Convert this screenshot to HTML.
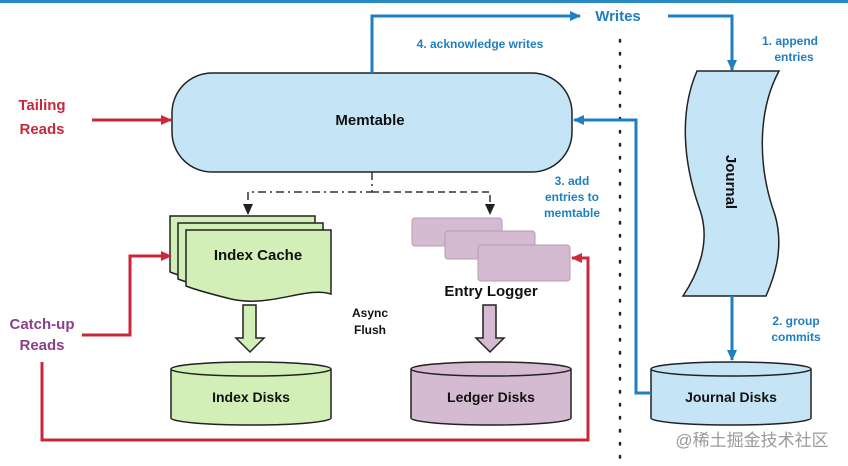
<!DOCTYPE html>
<html><head><meta charset="utf-8"><style>
html,body{margin:0;padding:0;background:#fff;}
svg{display:block;font-family:"Liberation Sans","Noto Sans CJK SC",sans-serif;font-weight:bold;}
</style></head><body>
<svg width="848" height="466" viewBox="0 0 848 466" xmlns="http://www.w3.org/2000/svg">
<defs>
<marker id="ar" markerWidth="12" markerHeight="12" refX="10" refY="6" orient="auto" markerUnits="userSpaceOnUse"><path d="M0,1 L11,6 L0,11 z" fill="#d0283a"/></marker>
<marker id="abl" markerWidth="12" markerHeight="12" refX="10" refY="6" orient="auto" markerUnits="userSpaceOnUse"><path d="M0,1 L11,6 L0,11 z" fill="#1f7fc0"/></marker>
<marker id="ak" markerWidth="12" markerHeight="12" refX="10" refY="6" orient="auto" markerUnits="userSpaceOnUse"><path d="M0,1 L11,6 L0,11 z" fill="#222"/></marker>
</defs>
<rect x="0" y="0" width="848" height="3" fill="#2a8ac8"/>
<line x1="620" y1="40" x2="620" y2="466" stroke="#222" stroke-width="2.5" stroke-dasharray="1.5 11.5" stroke-linecap="round"/>
<rect x="172" y="73" width="400" height="99" rx="40" fill="#c5e5f6" stroke="#222" stroke-width="1.5"/>
<text x="370" y="125" font-size="15" text-anchor="middle" fill="#111">Memtable</text>
<polyline points="372,73 372,16 580,16" fill="none" stroke="#1f7fc0" stroke-width="3" marker-end="url(#abl)"/>
<text x="618" y="21" font-size="15" text-anchor="middle" fill="#1f7fc0">Writes</text>
<polyline points="668,16 732,16 732,70" fill="none" stroke="#1f7fc0" stroke-width="3" marker-end="url(#abl)"/>
<text x="480" y="48" font-size="12" text-anchor="middle" fill="#1f7fc0">4. acknowledge writes</text>
<text x="790" y="45" font-size="12" text-anchor="middle" fill="#1f7fc0">1. append</text>
<text x="794" y="61" font-size="12" text-anchor="middle" fill="#1f7fc0">entries</text>
<path d="M697,71 L779,71 C758,110 757,165 775,215 C785,250 773,280 766,296 L683,296 C695,278 712,245 700,210 C682,160 680,110 697,71 Z" fill="#c5e5f6" stroke="#222" stroke-width="1.5"/>
<text x="0" y="0" font-size="15" fill="#111" transform="translate(726,182) rotate(90)" text-anchor="middle">Journal</text>
<line x1="732" y1="296" x2="732" y2="360" stroke="#1f7fc0" stroke-width="3" marker-end="url(#abl)"/>
<text x="796" y="325" font-size="12" text-anchor="middle" fill="#1f7fc0">2. group</text>
<text x="796" y="341" font-size="12" text-anchor="middle" fill="#1f7fc0">commits</text>
<path d="M651,369 L651,418 A80,7 0 0 0 811,418 L811,369" fill="#c5e5f6" stroke="#222" stroke-width="1.5"/>
<ellipse cx="731" cy="369" rx="80" ry="7" fill="#c5e5f6" stroke="#222" stroke-width="1.5"/>
<text x="731" y="402" font-size="14" text-anchor="middle" fill="#111">Journal Disks</text>
<polyline points="651,393 636,393 636,120 574,120" fill="none" stroke="#1f7fc0" stroke-width="3" marker-end="url(#abl)"/>
<text x="572" y="185" font-size="12" text-anchor="middle" fill="#1f7fc0">3. add</text>
<text x="572" y="201" font-size="12" text-anchor="middle" fill="#1f7fc0">entries to</text>
<text x="572" y="217" font-size="12" text-anchor="middle" fill="#1f7fc0">memtable</text>
<text x="42" y="110" font-size="15" text-anchor="middle" fill="#c8283a">Tailing</text>
<text x="42" y="134" font-size="15" text-anchor="middle" fill="#c8283a">Reads</text>
<line x1="92" y1="120" x2="171" y2="120" stroke="#c8283a" stroke-width="3" marker-end="url(#ar)"/>
<polyline points="372,172 372,192 248,192 248,214" fill="none" stroke="#333" stroke-width="1.5" stroke-dasharray="8 4 2 4" marker-end="url(#ak)"/>
<polyline points="372,192 490,192 490,214" fill="none" stroke="#333" stroke-width="1.5" stroke-dasharray="7 4" marker-end="url(#ak)"/>
<g fill="#d3efb8" stroke="#222" stroke-width="1.5">
<path d="M170,216 L315,216 L315,280 C290,272 255,295 215,285 C195,280 180,276 170,272 Z"/>
<path d="M178,223 L323,223 L323,287 C298,279 263,302 223,292 C203,287 188,283 178,279 Z"/>
<path d="M186,230 L331,230 L331,294 C306,286 271,308 231,299 C211,294 196,290 186,286 Z"/>
</g>
<text x="258" y="260" font-size="15" text-anchor="middle" fill="#111">Index Cache</text>
<g fill="#d5bbd2" stroke="#b79ab3" stroke-width="1">
<rect x="412" y="218" width="90" height="28" rx="3"/>
<rect x="445" y="231" width="90" height="28" rx="3"/>
<rect x="478" y="245" width="92" height="36" rx="3"/>
</g>
<text x="491" y="296" font-size="15" text-anchor="middle" fill="#111">Entry Logger</text>
<text x="370" y="317" font-size="12" text-anchor="middle" fill="#111">Async</text>
<text x="370" y="334" font-size="12" text-anchor="middle" fill="#111">Flush</text>
<path d="M243,305 L256,305 L256,338 L264,338 L250,352 L236,338 L243,338 Z" fill="#d3efb8" stroke="#222" stroke-width="1.5"/>
<path d="M483,305 L496,305 L496,338 L504,338 L490,352 L476,338 L483,338 Z" fill="#d5bbd2" stroke="#222" stroke-width="1.5"/>
<path d="M171,369 L171,418 A80,7 0 0 0 331,418 L331,369" fill="#d3efb8" stroke="#222" stroke-width="1.5"/>
<ellipse cx="251" cy="369" rx="80" ry="7" fill="#d3efb8" stroke="#222" stroke-width="1.5"/>
<text x="251" y="402" font-size="14" text-anchor="middle" fill="#111">Index Disks</text>
<path d="M411,369 L411,418 A80,7 0 0 0 571,418 L571,369" fill="#d5bbd2" stroke="#222" stroke-width="1.5"/>
<ellipse cx="491" cy="369" rx="80" ry="7" fill="#d5bbd2" stroke="#222" stroke-width="1.5"/>
<text x="491" y="402" font-size="14" text-anchor="middle" fill="#111">Ledger Disks</text>
<text x="42" y="329" font-size="15" text-anchor="middle" fill="#8b3f8b">Catch-up</text>
<text x="42" y="350" font-size="15" text-anchor="middle" fill="#8b3f8b">Reads</text>
<polyline points="82,335 130,335 130,256 171,256" fill="none" stroke="#c8283a" stroke-width="3" marker-end="url(#ar)"/>
<polyline points="42,362 42,440 588,440 588,258 572,258" fill="none" stroke="#c8283a" stroke-width="3" marker-end="url(#ar)"/>
<text x="752" y="446" font-size="17" font-weight="normal" text-anchor="middle" fill="#9a9a9a">@稀土掘金技术社区</text>
</svg>
</body></html>
